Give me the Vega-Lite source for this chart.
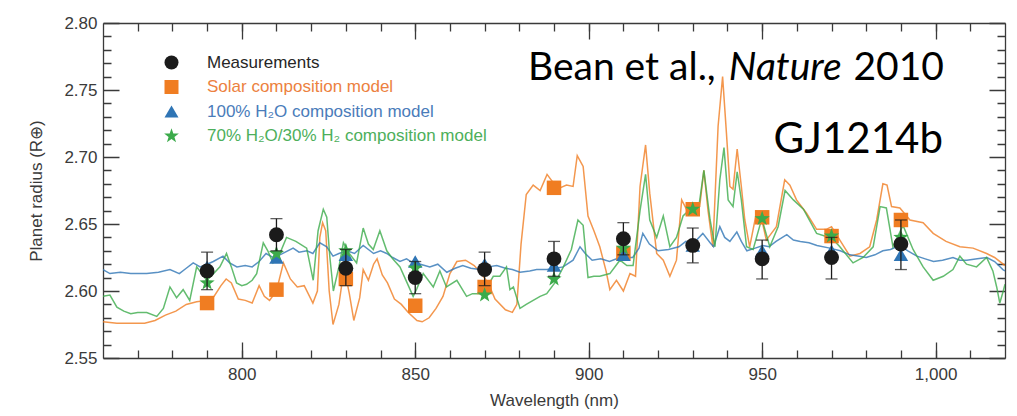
{
  "$schema": "https://vega.github.io/schema/vega-lite/v6.json",
  "width": 902,
  "height": 335,
  "autosize": "none",
  "padding": {"left": 103, "top": 23, "right": 12, "bottom": 58},
  "background": "white",
  "config": {
    "font": "Liberation Sans",
    "view": {"stroke": null},
    "axis": {
      "grid": false,
      "domainColor": "#3a3a3a",
      "domainWidth": 1.3,
      "tickColor": "#3a3a3a",
      "tickWidth": 1.3,
      "gridColor": "#3a3a3a",
      "gridWidth": 1.3,
      "gridOpacity": 1,
      "labelColor": "#3a3a3a",
      "labelFont": "Liberation Sans",
      "labelFontSize": 17,
      "titleColor": "#3a3a3a",
      "titleFont": "Liberation Sans",
      "titleFontSize": 17,
      "titleFontWeight": "normal"
    },
    "legend": {
      "orient": "none",
      "legendX": 40,
      "legendY": 31,
      "padding": 0,
      "symbolSize": 196,
      "symbolStrokeWidth": 0,
      "symbolOffset": 20,
      "labelOffset": 27,
      "rowPadding": 6.5,
      "labelLimit": 0,
      "labelFont": "Liberation Sans",
      "labelFontSize": 17
    }
  },
  "datasets": {
    "solar_spec": [
      {"wl": 760, "r": 2.577}, {"wl": 764, "r": 2.576}, {"wl": 768, "r": 2.576}, {"wl": 772, "r": 2.576},
      {"wl": 775, "r": 2.578}, {"wl": 778, "r": 2.582}, {"wl": 781, "r": 2.585}, {"wl": 784, "r": 2.59},
      {"wl": 787, "r": 2.592}, {"wl": 790, "r": 2.593}, {"wl": 792, "r": 2.596}, {"wl": 794, "r": 2.604},
      {"wl": 795.5, "r": 2.609}, {"wl": 797, "r": 2.606}, {"wl": 799, "r": 2.594}, {"wl": 801, "r": 2.593},
      {"wl": 803, "r": 2.591}, {"wl": 805, "r": 2.604}, {"wl": 806.5, "r": 2.596}, {"wl": 808, "r": 2.593},
      {"wl": 810, "r": 2.6}, {"wl": 812, "r": 2.621}, {"wl": 814, "r": 2.609}, {"wl": 816, "r": 2.603},
      {"wl": 818, "r": 2.604}, {"wl": 820.5, "r": 2.591}, {"wl": 821.8, "r": 2.6}, {"wl": 822.5, "r": 2.64},
      {"wl": 823.3, "r": 2.651}, {"wl": 824.2, "r": 2.645}, {"wl": 825.2, "r": 2.6}, {"wl": 826.3, "r": 2.575},
      {"wl": 828, "r": 2.59}, {"wl": 829, "r": 2.608}, {"wl": 830, "r": 2.611}, {"wl": 831, "r": 2.598},
      {"wl": 832.3, "r": 2.578}, {"wl": 834, "r": 2.595}, {"wl": 835, "r": 2.616}, {"wl": 836.5, "r": 2.608},
      {"wl": 838, "r": 2.62}, {"wl": 839, "r": 2.624}, {"wl": 840.5, "r": 2.612}, {"wl": 842, "r": 2.606},
      {"wl": 844, "r": 2.594}, {"wl": 846, "r": 2.59}, {"wl": 848, "r": 2.584}, {"wl": 850.5, "r": 2.578},
      {"wl": 852, "r": 2.577}, {"wl": 854, "r": 2.58}, {"wl": 856, "r": 2.587}, {"wl": 858, "r": 2.596},
      {"wl": 860, "r": 2.613}, {"wl": 862, "r": 2.622}, {"wl": 864.5, "r": 2.623}, {"wl": 867, "r": 2.619},
      {"wl": 869, "r": 2.613}, {"wl": 871, "r": 2.606}, {"wl": 873, "r": 2.594}, {"wl": 876, "r": 2.586},
      {"wl": 878, "r": 2.584}, {"wl": 879.3, "r": 2.59}, {"wl": 880.5, "r": 2.635}, {"wl": 882, "r": 2.672},
      {"wl": 884, "r": 2.679}, {"wl": 886, "r": 2.675}, {"wl": 888, "r": 2.687}, {"wl": 890, "r": 2.68},
      {"wl": 891.7, "r": 2.677}, {"wl": 893.6, "r": 2.679}, {"wl": 895.5, "r": 2.678}, {"wl": 896.7, "r": 2.701},
      {"wl": 898.4, "r": 2.693}, {"wl": 899.8, "r": 2.656}, {"wl": 901.5, "r": 2.645}, {"wl": 903.2, "r": 2.633},
      {"wl": 905, "r": 2.615}, {"wl": 906.1, "r": 2.601}, {"wl": 908, "r": 2.608}, {"wl": 910, "r": 2.6},
      {"wl": 911.9, "r": 2.613}, {"wl": 913.5, "r": 2.611}, {"wl": 914.8, "r": 2.678}, {"wl": 916.4, "r": 2.709},
      {"wl": 917.6, "r": 2.673}, {"wl": 919.6, "r": 2.628}, {"wl": 921.5, "r": 2.623}, {"wl": 923.4, "r": 2.611},
      {"wl": 925.3, "r": 2.623}, {"wl": 926.8, "r": 2.668}, {"wl": 928.2, "r": 2.661}, {"wl": 930, "r": 2.66},
      {"wl": 932, "r": 2.663}, {"wl": 933.2, "r": 2.69}, {"wl": 934.4, "r": 2.66}, {"wl": 935.8, "r": 2.633},
      {"wl": 937.3, "r": 2.723}, {"wl": 938.6, "r": 2.76}, {"wl": 939.7, "r": 2.718}, {"wl": 940.7, "r": 2.678},
      {"wl": 941.6, "r": 2.676}, {"wl": 942.8, "r": 2.706}, {"wl": 944, "r": 2.678}, {"wl": 945, "r": 2.653},
      {"wl": 946.4, "r": 2.633}, {"wl": 948.4, "r": 2.659}, {"wl": 950, "r": 2.652}, {"wl": 951.2, "r": 2.638},
      {"wl": 954.1, "r": 2.648}, {"wl": 956.5, "r": 2.683}, {"wl": 958, "r": 2.679}, {"wl": 959.9, "r": 2.668},
      {"wl": 962.8, "r": 2.658}, {"wl": 965.7, "r": 2.646}, {"wl": 968.5, "r": 2.646}, {"wl": 970, "r": 2.648},
      {"wl": 972.4, "r": 2.638}, {"wl": 975.3, "r": 2.626}, {"wl": 978.2, "r": 2.628}, {"wl": 981, "r": 2.633},
      {"wl": 983, "r": 2.653}, {"wl": 984.8, "r": 2.68}, {"wl": 986, "r": 2.679}, {"wl": 987.3, "r": 2.663},
      {"wl": 989.7, "r": 2.662}, {"wl": 992.6, "r": 2.653}, {"wl": 996.4, "r": 2.651}, {"wl": 999.3, "r": 2.643},
      {"wl": 1003, "r": 2.637}, {"wl": 1007, "r": 2.633}, {"wl": 1010.8, "r": 2.632}, {"wl": 1014.7, "r": 2.628},
      {"wl": 1017, "r": 2.625}, {"wl": 1020, "r": 2.619}
    ],
    "h2o_spec": [
      {"wl": 760, "r": 2.616}, {"wl": 762, "r": 2.613}, {"wl": 765, "r": 2.614}, {"wl": 768, "r": 2.613},
      {"wl": 772.6, "r": 2.613}, {"wl": 776, "r": 2.614}, {"wl": 779.3, "r": 2.616}, {"wl": 782, "r": 2.613},
      {"wl": 784, "r": 2.617}, {"wl": 786, "r": 2.621}, {"wl": 788, "r": 2.618}, {"wl": 790, "r": 2.62},
      {"wl": 791.8, "r": 2.622}, {"wl": 794.6, "r": 2.626}, {"wl": 796.5, "r": 2.621}, {"wl": 798.6, "r": 2.618},
      {"wl": 801, "r": 2.619}, {"wl": 803, "r": 2.618}, {"wl": 805, "r": 2.622}, {"wl": 807, "r": 2.628},
      {"wl": 809, "r": 2.625}, {"wl": 811, "r": 2.627}, {"wl": 814.8, "r": 2.632}, {"wl": 816.5, "r": 2.629},
      {"wl": 818.8, "r": 2.63}, {"wl": 820.5, "r": 2.628}, {"wl": 822.5, "r": 2.636}, {"wl": 824.5, "r": 2.633},
      {"wl": 826.3, "r": 2.626}, {"wl": 828, "r": 2.628}, {"wl": 830.3, "r": 2.63}, {"wl": 832.5, "r": 2.628},
      {"wl": 835, "r": 2.634}, {"wl": 838, "r": 2.628}, {"wl": 840, "r": 2.63}, {"wl": 841.8, "r": 2.628},
      {"wl": 843.5, "r": 2.625}, {"wl": 845.6, "r": 2.622}, {"wl": 847.5, "r": 2.624}, {"wl": 849.3, "r": 2.621},
      {"wl": 851.5, "r": 2.62}, {"wl": 854.2, "r": 2.618}, {"wl": 856.5, "r": 2.62}, {"wl": 859.1, "r": 2.614},
      {"wl": 861.5, "r": 2.617}, {"wl": 863.7, "r": 2.619}, {"wl": 866, "r": 2.617}, {"wl": 868.6, "r": 2.616},
      {"wl": 871, "r": 2.618}, {"wl": 873.5, "r": 2.619}, {"wl": 876, "r": 2.617}, {"wl": 878, "r": 2.616},
      {"wl": 880.2, "r": 2.614}, {"wl": 883, "r": 2.615}, {"wl": 885, "r": 2.616}, {"wl": 888, "r": 2.616},
      {"wl": 890.5, "r": 2.617}, {"wl": 892.6, "r": 2.618}, {"wl": 895.5, "r": 2.623}, {"wl": 897.5, "r": 2.633},
      {"wl": 899, "r": 2.628}, {"wl": 901, "r": 2.623}, {"wl": 903.5, "r": 2.624}, {"wl": 906, "r": 2.622},
      {"wl": 909, "r": 2.625}, {"wl": 912.7, "r": 2.625}, {"wl": 914.5, "r": 2.632}, {"wl": 915.6, "r": 2.643},
      {"wl": 917.5, "r": 2.635}, {"wl": 920, "r": 2.63}, {"wl": 923, "r": 2.631}, {"wl": 926, "r": 2.633},
      {"wl": 928, "r": 2.637}, {"wl": 930, "r": 2.635}, {"wl": 932.9, "r": 2.643}, {"wl": 935, "r": 2.636},
      {"wl": 936, "r": 2.633}, {"wl": 937.8, "r": 2.648}, {"wl": 939.2, "r": 2.64}, {"wl": 940.7, "r": 2.637},
      {"wl": 942.7, "r": 2.644}, {"wl": 944, "r": 2.637}, {"wl": 945.6, "r": 2.63}, {"wl": 948, "r": 2.632},
      {"wl": 950.2, "r": 2.634}, {"wl": 952, "r": 2.633}, {"wl": 954, "r": 2.637}, {"wl": 957.1, "r": 2.642},
      {"wl": 959, "r": 2.638}, {"wl": 961, "r": 2.637}, {"wl": 963.5, "r": 2.636}, {"wl": 965.8, "r": 2.634},
      {"wl": 969.5, "r": 2.632}, {"wl": 972.5, "r": 2.63}, {"wl": 975.3, "r": 2.627}, {"wl": 978, "r": 2.626},
      {"wl": 980, "r": 2.625}, {"wl": 982.5, "r": 2.627}, {"wl": 984.8, "r": 2.63}, {"wl": 987, "r": 2.631},
      {"wl": 989.6, "r": 2.634}, {"wl": 992, "r": 2.63}, {"wl": 994.6, "r": 2.626}, {"wl": 997, "r": 2.624},
      {"wl": 999.4, "r": 2.622}, {"wl": 1002, "r": 2.623}, {"wl": 1005, "r": 2.625}, {"wl": 1007, "r": 2.623},
      {"wl": 1009, "r": 2.623}, {"wl": 1012, "r": 2.624}, {"wl": 1014.8, "r": 2.625}, {"wl": 1017, "r": 2.622},
      {"wl": 1019.4, "r": 2.616}, {"wl": 1020, "r": 2.615}
    ],
    "mix_spec": [
      {"wl": 760, "r": 2.596}, {"wl": 762, "r": 2.597}, {"wl": 764, "r": 2.588}, {"wl": 766, "r": 2.585},
      {"wl": 768, "r": 2.583}, {"wl": 770, "r": 2.584}, {"wl": 772.6, "r": 2.584}, {"wl": 775.5, "r": 2.581},
      {"wl": 777.4, "r": 2.587}, {"wl": 779.3, "r": 2.603}, {"wl": 781.2, "r": 2.595}, {"wl": 783.1, "r": 2.601},
      {"wl": 785, "r": 2.593}, {"wl": 787, "r": 2.618}, {"wl": 789.9, "r": 2.608}, {"wl": 791.5, "r": 2.612},
      {"wl": 793.7, "r": 2.618}, {"wl": 795.6, "r": 2.628}, {"wl": 797, "r": 2.618}, {"wl": 798.5, "r": 2.606},
      {"wl": 800, "r": 2.604}, {"wl": 801.4, "r": 2.605}, {"wl": 803, "r": 2.608}, {"wl": 804.3, "r": 2.613},
      {"wl": 806.2, "r": 2.636}, {"wl": 807.5, "r": 2.63}, {"wl": 809, "r": 2.621}, {"wl": 810.5, "r": 2.625},
      {"wl": 812.9, "r": 2.64}, {"wl": 815.6, "r": 2.637}, {"wl": 818.7, "r": 2.632}, {"wl": 820.6, "r": 2.608},
      {"wl": 822, "r": 2.645}, {"wl": 823.5, "r": 2.661}, {"wl": 824.5, "r": 2.655}, {"wl": 825.4, "r": 2.625},
      {"wl": 826.4, "r": 2.6}, {"wl": 828, "r": 2.618}, {"wl": 829.3, "r": 2.636}, {"wl": 831, "r": 2.628},
      {"wl": 833.1, "r": 2.621}, {"wl": 835, "r": 2.647}, {"wl": 836.5, "r": 2.635}, {"wl": 837.9, "r": 2.631},
      {"wl": 839.8, "r": 2.645}, {"wl": 841.8, "r": 2.63}, {"wl": 843.5, "r": 2.624}, {"wl": 845.6, "r": 2.618},
      {"wl": 847.5, "r": 2.607}, {"wl": 849.4, "r": 2.596}, {"wl": 850.5, "r": 2.602}, {"wl": 852.3, "r": 2.613},
      {"wl": 855.2, "r": 2.603}, {"wl": 857.1, "r": 2.615}, {"wl": 859, "r": 2.603}, {"wl": 862, "r": 2.608},
      {"wl": 864.8, "r": 2.596}, {"wl": 866.5, "r": 2.598}, {"wl": 868.6, "r": 2.598}, {"wl": 870.5, "r": 2.602},
      {"wl": 872.5, "r": 2.611}, {"wl": 874.4, "r": 2.611}, {"wl": 876.3, "r": 2.618}, {"wl": 877.3, "r": 2.601},
      {"wl": 878.3, "r": 2.603}, {"wl": 880.2, "r": 2.587}, {"wl": 882, "r": 2.59}, {"wl": 884, "r": 2.593},
      {"wl": 886, "r": 2.596}, {"wl": 887.9, "r": 2.598}, {"wl": 890.5, "r": 2.607}, {"wl": 892.7, "r": 2.618},
      {"wl": 895, "r": 2.631}, {"wl": 896.9, "r": 2.653}, {"wl": 898.4, "r": 2.649}, {"wl": 899.8, "r": 2.61},
      {"wl": 901.5, "r": 2.611}, {"wl": 903.2, "r": 2.611}, {"wl": 906.1, "r": 2.613}, {"wl": 909, "r": 2.623},
      {"wl": 911, "r": 2.619}, {"wl": 912.8, "r": 2.619}, {"wl": 914.8, "r": 2.66}, {"wl": 916.4, "r": 2.687},
      {"wl": 917.6, "r": 2.653}, {"wl": 919.6, "r": 2.64}, {"wl": 921.5, "r": 2.656}, {"wl": 923.4, "r": 2.633},
      {"wl": 925.3, "r": 2.64}, {"wl": 927.2, "r": 2.656}, {"wl": 929.2, "r": 2.661}, {"wl": 931.6, "r": 2.66},
      {"wl": 933.2, "r": 2.69}, {"wl": 935, "r": 2.653}, {"wl": 936.4, "r": 2.633}, {"wl": 937.8, "r": 2.683},
      {"wl": 939, "r": 2.707}, {"wl": 940.2, "r": 2.668}, {"wl": 941.6, "r": 2.663}, {"wl": 942.8, "r": 2.689},
      {"wl": 944, "r": 2.668}, {"wl": 945.5, "r": 2.633}, {"wl": 947.4, "r": 2.631}, {"wl": 949.9, "r": 2.654},
      {"wl": 952.2, "r": 2.633}, {"wl": 954.6, "r": 2.648}, {"wl": 956.6, "r": 2.675}, {"wl": 959, "r": 2.668},
      {"wl": 961.9, "r": 2.661}, {"wl": 965.7, "r": 2.643}, {"wl": 968, "r": 2.641}, {"wl": 969.5, "r": 2.641},
      {"wl": 972.4, "r": 2.633}, {"wl": 976.2, "r": 2.621}, {"wl": 979.1, "r": 2.625}, {"wl": 982, "r": 2.633},
      {"wl": 984, "r": 2.663}, {"wl": 985.8, "r": 2.662}, {"wl": 987.7, "r": 2.633}, {"wl": 990.6, "r": 2.649},
      {"wl": 993.5, "r": 2.631}, {"wl": 996.4, "r": 2.618}, {"wl": 999.3, "r": 2.608}, {"wl": 1002.2, "r": 2.611},
      {"wl": 1005, "r": 2.616}, {"wl": 1007, "r": 2.626}, {"wl": 1008.9, "r": 2.62}, {"wl": 1011.8, "r": 2.618},
      {"wl": 1014.7, "r": 2.625}, {"wl": 1016.5, "r": 2.615}, {"wl": 1017.6, "r": 2.603}, {"wl": 1018.5, "r": 2.591},
      {"wl": 1019.5, "r": 2.6}, {"wl": 1020, "r": 2.605}
    ],
    "model_points": [
      {"series": "solar", "wl": 790, "r": 2.591}, {"series": "solar", "wl": 810, "r": 2.601},
      {"series": "solar", "wl": 830, "r": 2.609}, {"series": "solar", "wl": 850, "r": 2.589},
      {"series": "solar", "wl": 870, "r": 2.603}, {"series": "solar", "wl": 890, "r": 2.677},
      {"series": "solar", "wl": 910, "r": 2.628}, {"series": "solar", "wl": 930, "r": 2.661},
      {"series": "solar", "wl": 950, "r": 2.655}, {"series": "solar", "wl": 970, "r": 2.641},
      {"series": "solar", "wl": 990, "r": 2.653},
      {"series": "h2o", "wl": 790, "r": 2.618}, {"series": "h2o", "wl": 810, "r": 2.625},
      {"series": "h2o", "wl": 830, "r": 2.627}, {"series": "h2o", "wl": 850, "r": 2.622},
      {"series": "h2o", "wl": 870, "r": 2.62}, {"series": "h2o", "wl": 890, "r": 2.619},
      {"series": "h2o", "wl": 910, "r": 2.627}, {"series": "h2o", "wl": 930, "r": 2.634},
      {"series": "h2o", "wl": 950, "r": 2.63}, {"series": "h2o", "wl": 970, "r": 2.63},
      {"series": "h2o", "wl": 990, "r": 2.627},
      {"series": "mix", "wl": 790, "r": 2.606}, {"series": "mix", "wl": 810, "r": 2.628},
      {"series": "mix", "wl": 830, "r": 2.63}, {"series": "mix", "wl": 850, "r": 2.617},
      {"series": "mix", "wl": 870, "r": 2.597}, {"series": "mix", "wl": 890, "r": 2.609},
      {"series": "mix", "wl": 910, "r": 2.632}, {"series": "mix", "wl": 930, "r": 2.661},
      {"series": "mix", "wl": 950, "r": 2.654}, {"series": "mix", "wl": 970, "r": 2.641},
      {"series": "mix", "wl": 990, "r": 2.64}
    ],
    "measurements": [
      {"wl": 790, "r": 2.615, "lo": 2.601, "hi": 2.629},
      {"wl": 810, "r": 2.642, "lo": 2.63, "hi": 2.654},
      {"wl": 830, "r": 2.617, "lo": 2.604, "hi": 2.631},
      {"wl": 850, "r": 2.61, "lo": 2.598, "hi": 2.622},
      {"wl": 870, "r": 2.616, "lo": 2.604, "hi": 2.629},
      {"wl": 890, "r": 2.624, "lo": 2.611, "hi": 2.637},
      {"wl": 910, "r": 2.639, "lo": 2.627, "hi": 2.651},
      {"wl": 930, "r": 2.634, "lo": 2.621, "hi": 2.647},
      {"wl": 950, "r": 2.624, "lo": 2.609, "hi": 2.638},
      {"wl": 970, "r": 2.625, "lo": 2.609, "hi": 2.64},
      {"wl": 990, "r": 2.635, "lo": 2.616, "hi": 2.653}
    ]
  },
  "resolve": {
    "scale": {"x": "shared", "y": "shared"},
    "axis": {"x": "independent", "y": "independent"}
  },
  "layer": [
    {
      "data": {"name": "solar_spec"},
      "mark": {"type": "line", "color": "#F07D22", "strokeWidth": 1.5, "opacity": 0.8, "clip": true},
      "encoding": {
        "x": {"field": "wl", "type": "quantitative", "scale": {"domain": [760, 1020], "nice": false, "zero": false},
          "axis": {"orient": "bottom", "values": [800, 850, 900, 950, 1000], "format": ",.0f", "ticks": false, "domain": true,
            "grid": true, "gridDash": [16, 303, 16, 0],
            "labelPadding": 8, "title": "Wavelength (nm)", "titlePadding": 10}},
        "y": {"field": "r", "type": "quantitative", "scale": {"domain": [2.55, 2.8], "nice": false, "zero": false},
          "axis": {"orient": "left", "values": [2.55, 2.6, 2.65, 2.7, 2.75, 2.8], "format": ".2f", "ticks": false, "domain": true,
            "grid": true, "gridDash": [16, 870, 16, 0],
            "labelPadding": 6, "title": "Planet radius (R⊕)", "titlePadding": 18}}
      }
    },
    {
      "data": {"name": "h2o_spec"},
      "mark": {"type": "line", "color": "#2F75B5", "strokeWidth": 1.5, "opacity": 0.8, "clip": true},
      "encoding": {
        "x": {"field": "wl", "type": "quantitative", "scale": {"domain": [760, 1020], "nice": false, "zero": false},
          "axis": {"orient": "bottom", "values": [770, 780, 790, 800, 810, 820, 830, 840, 850, 860, 870, 880, 890, 900, 910, 920, 930, 940, 950, 960, 970, 980, 990, 1000, 1010],
            "labels": false, "domain": false, "ticks": false, "grid": true, "gridDash": [8, 319, 8, 0], "title": null}},
        "y": {"field": "r", "type": "quantitative", "scale": {"domain": [2.55, 2.8], "nice": false, "zero": false},
          "axis": {"orient": "left", "values": [2.56, 2.57, 2.58, 2.59, 2.61, 2.62, 2.63, 2.64, 2.66, 2.67, 2.68, 2.69, 2.71, 2.72, 2.73, 2.74, 2.76, 2.77, 2.78, 2.79],
            "labels": false, "domain": false, "ticks": false, "grid": true, "gridDash": [8, 886, 8, 0], "title": null}}
      }
    },
    {
      "data": {"name": "mix_spec"},
      "mark": {"type": "line", "color": "#3CAB4B", "strokeWidth": 1.5, "opacity": 0.8, "clip": true},
      "encoding": {
        "x": {"field": "wl", "type": "quantitative", "scale": {"domain": [760, 1020], "nice": false, "zero": false},
          "axis": {"orient": "top", "labels": false, "ticks": false, "domain": true, "title": null}},
        "y": {"field": "r", "type": "quantitative", "scale": {"domain": [2.55, 2.8], "nice": false, "zero": false},
          "axis": {"orient": "right", "labels": false, "ticks": false, "domain": true, "title": null}}
      }
    },
    {
      "data": {"name": "model_points"},
      "mark": {"type": "point", "filled": true, "opacity": 1, "size": 210},
      "encoding": {
        "x": {"field": "wl", "type": "quantitative", "scale": {"domain": [760, 1020], "nice": false, "zero": false}, "axis": null},
        "y": {"field": "r", "type": "quantitative", "scale": {"domain": [2.55, 2.8], "nice": false, "zero": false}, "axis": null},
        "color": {"field": "series", "type": "nominal",
          "scale": {"domain": ["meas", "solar", "h2o", "mix"], "range": ["#1b1b1b", "#F07D22", "#2F75B5", "#3CAB4B"]},
          "legend": {
            "title": null,
            "labelExpr": "datum.value === 'meas' ? 'Measurements' : datum.value === 'solar' ? 'Solar composition model' : datum.value === 'h2o' ? '100% H₂O composition model' : '70% H₂O/30% H₂ composition model'",
            "labelColor": {"expr": "datum.value === 'solar' ? '#EC8140' : datum.value === 'h2o' ? '#4A7CBA' : datum.value === 'mix' ? '#4DAF5B' : '#262626'"},
            "symbolType": {"expr": "datum.value === 'solar' ? 'M-3.7,-0.1H3.7V0.1H-3.7Z M-0.95,-0.95H0.95V0.95H-0.95Z' : datum.value === 'h2o' ? 'M-3.7,-0.1H3.7V0.1H-3.7Z M0,-1L1,0.8H-1Z' : datum.value === 'mix' ? 'M-3.7,-0.1H3.7V0.1H-3.7Z M0,-1.1L0.26,-0.36L1.05,-0.34L0.42,0.14L0.65,0.89L0,0.44L-0.65,0.89L-0.42,0.14L-1.05,-0.34L-0.26,-0.36Z' : 'circle'"}
          }},
        "shape": {"field": "series", "type": "nominal",
          "scale": {"domain": ["meas", "solar", "h2o", "mix"],
            "range": ["circle", "square", "triangle-up", "M0,-1.1L0.26,-0.36L1.05,-0.34L0.42,0.14L0.65,0.89L0,0.44L-0.65,0.89L-0.42,0.14L-1.05,-0.34L-0.26,-0.36Z"]},
          "legend": null}
      }
    },
    {
      "data": {"name": "measurements"},
      "mark": {"type": "rule", "color": "#1b1b1b", "strokeWidth": 1.3},
      "encoding": {
        "x": {"field": "wl", "type": "quantitative", "scale": {"domain": [760, 1020], "nice": false, "zero": false}, "axis": null},
        "y": {"field": "lo", "type": "quantitative", "scale": {"domain": [2.55, 2.8], "nice": false, "zero": false}, "axis": null},
        "y2": {"field": "hi"}
      }
    },
    {
      "data": {"name": "measurements"},
      "mark": {"type": "tick", "orient": "horizontal", "color": "#1b1b1b", "size": 12, "thickness": 1.3},
      "encoding": {
        "x": {"field": "wl", "type": "quantitative", "scale": {"domain": [760, 1020], "nice": false, "zero": false}, "axis": null},
        "y": {"field": "lo", "type": "quantitative", "scale": {"domain": [2.55, 2.8], "nice": false, "zero": false}, "axis": null}
      }
    },
    {
      "data": {"name": "measurements"},
      "mark": {"type": "tick", "orient": "horizontal", "color": "#1b1b1b", "size": 12, "thickness": 1.3},
      "encoding": {
        "x": {"field": "wl", "type": "quantitative", "scale": {"domain": [760, 1020], "nice": false, "zero": false}, "axis": null},
        "y": {"field": "hi", "type": "quantitative", "scale": {"domain": [2.55, 2.8], "nice": false, "zero": false}, "axis": null}
      }
    },
    {
      "data": {"name": "measurements"},
      "mark": {"type": "point", "shape": "circle", "filled": true, "color": "#1b1b1b", "opacity": 1, "size": 220},
      "encoding": {
        "x": {"field": "wl", "type": "quantitative", "scale": {"domain": [760, 1020], "nice": false, "zero": false}, "axis": null},
        "y": {"field": "r", "type": "quantitative", "scale": {"domain": [2.55, 2.8], "nice": false, "zero": false}, "axis": null}
      }
    },
    {
      "data": {"values": [{}]},
      "mark": {"type": "text", "text": "Bean et al.,", "font": "Lato", "fontSize": 39, "align": "left", "baseline": "alphabetic", "color": "#000000"},
      "encoding": {
        "x": {"datum": 882.5, "type": "quantitative", "scale": {"domain": [760, 1020], "nice": false, "zero": false}, "axis": null},
        "y": {"datum": 2.7575, "type": "quantitative", "scale": {"domain": [2.55, 2.8], "nice": false, "zero": false}, "axis": null}
      }
    },
    {
      "data": {"values": [{}]},
      "mark": {"type": "text", "text": "Nature", "font": "Lato", "fontStyle": "italic", "fontSize": 39, "align": "left", "baseline": "alphabetic", "color": "#000000"},
      "encoding": {
        "x": {"datum": 940.4, "type": "quantitative", "scale": {"domain": [760, 1020], "nice": false, "zero": false}, "axis": null},
        "y": {"datum": 2.7575, "type": "quantitative", "scale": {"domain": [2.55, 2.8], "nice": false, "zero": false}, "axis": null}
      }
    },
    {
      "data": {"values": [{}]},
      "mark": {"type": "text", "text": "2010", "font": "Lato", "fontSize": 39, "align": "right", "baseline": "alphabetic", "color": "#000000"},
      "encoding": {
        "x": {"datum": 1002.4, "type": "quantitative", "scale": {"domain": [760, 1020], "nice": false, "zero": false}, "axis": null},
        "y": {"datum": 2.7575, "type": "quantitative", "scale": {"domain": [2.55, 2.8], "nice": false, "zero": false}, "axis": null}
      }
    },
    {
      "data": {"values": [{}]},
      "mark": {"type": "text", "text": "GJ1214b", "font": "Lato", "fontSize": 42, "align": "right", "baseline": "alphabetic", "color": "#000000"},
      "encoding": {
        "x": {"datum": 1002.1, "type": "quantitative", "scale": {"domain": [760, 1020], "nice": false, "zero": false}, "axis": null},
        "y": {"datum": 2.703, "type": "quantitative", "scale": {"domain": [2.55, 2.8], "nice": false, "zero": false}, "axis": null}
      }
    }
  ]
}
